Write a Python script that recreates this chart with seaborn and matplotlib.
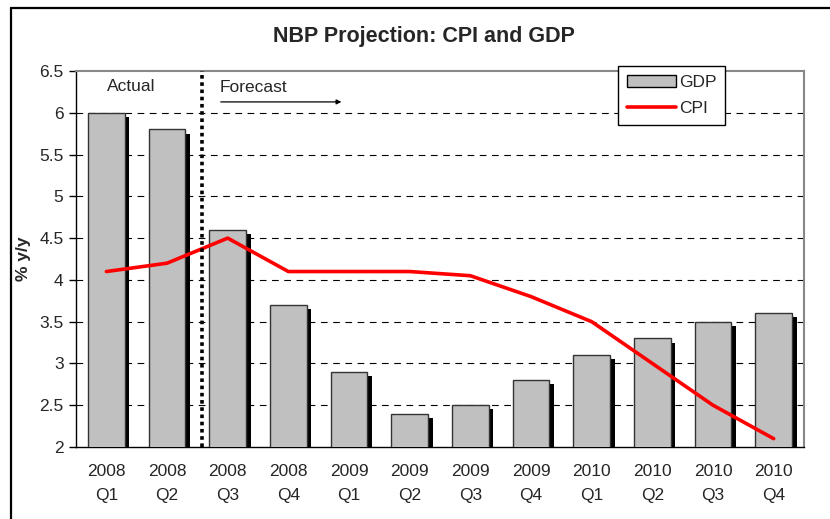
import numpy as np
import pandas as pd
import seaborn as sns
import matplotlib.pyplot as plt
import matplotlib.patheffects as pe
from matplotlib.lines import Line2D
from matplotlib.patches import Patch

quarters = ['2008\nQ1', '2008\nQ2', '2008\nQ3', '2008\nQ4',
            '2009\nQ1', '2009\nQ2', '2009\nQ3', '2009\nQ4',
            '2010\nQ1', '2010\nQ2', '2010\nQ3', '2010\nQ4']
gdp = [6.0, 5.8, 4.6, 3.7, 2.9, 2.4, 2.5, 2.8, 3.1, 3.3, 3.5, 3.6]
cpi = [4.1, 4.2, 4.5, 4.1, 4.1, 4.1, 4.05, 3.8, 3.5, 3.0, 2.5, 2.1]
y_ticks = [2, 2.5, 3, 3.5, 4, 4.5, 5, 5.5, 6, 6.5]

df = pd.DataFrame({'Quarter': quarters, 'GDP': gdp, 'CPI': cpi})

sns.set_theme(style='white')
plt.rcParams['font.family'] = ['Liberation Sans', 'DejaVu Sans']

fig = plt.figure(figsize=(8.3, 5.19), dpi=100)
ax = fig.add_axes([0.0916, 0.1387, 0.8771, 0.7245])

# gdp bars with black drop shadow
sns.barplot(data=df, x='Quarter', y='GDP', color='#C0C0C0', saturation=1,
            width=0.6, edgecolor='#333333', linewidth=1, ax=ax, zorder=3)
for bar in ax.patches:
    bar.set_path_effects([pe.SimplePatchShadow(offset=(3.5, -3), shadow_rgbFace='black', alpha=1),
                          pe.Normal()])

# cpi line
sns.lineplot(x=np.arange(len(quarters)), y=df['CPI'], color='#FF0000', linewidth=2.6,
             ax=ax, zorder=4)

ax.set_ylim(2, 6.5)
ax.set_xlim(-0.5, len(quarters) - 0.5)
ax.set_yticks(y_ticks)
ax.set_yticklabels([f'{t:g}' for t in y_ticks], fontsize=12.5)
ax.set_xticks(range(len(quarters)))
ax.set_xticklabels(quarters, fontsize=12.5, linespacing=1.75)
ax.set_xticks(np.arange(-0.5, len(quarters), 1), minor=True)
ax.tick_params(axis='x', which='major', length=0, pad=12)
ax.tick_params(axis='x', which='minor', length=5, width=1, color='black', direction='out')
ax.tick_params(axis='y', length=5, width=1, color='black', direction='out', left=True, pad=4)
ax.set_xlabel('')
ax.set_ylabel('% y/y', fontsize=12.5, fontweight='bold')
ax.yaxis.set_label_coords(-0.062, 0.5)

for y in y_ticks[1:-1]:
    ax.axhline(y, color='black', linestyle=(0, (6, 5)), linewidth=0.8, zorder=1)

for side in ['left', 'bottom']:
    ax.spines[side].set_color('black')
    ax.spines[side].set_linewidth(1)
for side in ['top', 'right']:
    ax.spines[side].set_color('#888888')
    ax.spines[side].set_linewidth(1.5)

# actual / forecast divider
ax.axvline(1.58, color='black', linestyle=(0, (1, 1)), linewidth=2.6, zorder=5)
ax.text(0.41, 6.31, 'Actual', ha='center', va='center', fontsize=12.5)
ax.text(1.87, 6.3, 'Forecast', ha='left', va='center', fontsize=12.5)
ax.annotate('', xy=(3.92, 6.13), xytext=(1.84, 6.13),
            arrowprops=dict(arrowstyle='-|>', color='black', lw=0.9,
                            mutation_scale=7))

handles = [Patch(facecolor='#C0C0C0', edgecolor='black', linewidth=1),
           Line2D([0], [0], color='#FF0000', linewidth=2.6)]
leg = ax.legend(handles, ['GDP', 'CPI'], loc='upper left', bbox_to_anchor=(0.745, 1.013),
                fontsize=12.5, frameon=True, fancybox=False, edgecolor='black',
                handlelength=2.8, handletextpad=0.2, borderpad=0.5, labelspacing=0.65,
                borderaxespad=0)
leg.get_frame().set_linewidth(1)
leg.get_frame().set_alpha(1)
leg.set_zorder(10)

fig.suptitle('NBP Projection: CPI and GDP', x=0.511, y=0.95, fontsize=15.5, fontweight='bold')

# outer chart border
fig.add_artist(Line2D([0.0133, 0.0133], [0, 0.9846], color='black', linewidth=1.6,
                      transform=fig.transFigure))
fig.add_artist(Line2D([0.0133, 1.0], [0.9846, 0.9846], color='black', linewidth=1.6,
                      transform=fig.transFigure))

fig.savefig('out.png', dpi=100)
